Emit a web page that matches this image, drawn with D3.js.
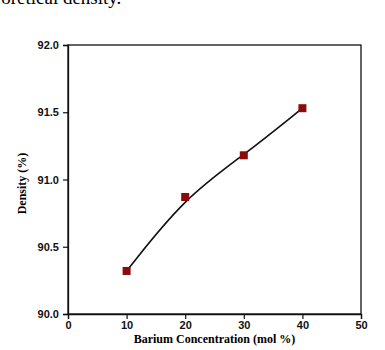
<!DOCTYPE html>
<html>
<head>
<meta charset="utf-8">
<script src="https://cdn.jsdelivr.net/npm/d3@7"></script>
<style>
  body { margin: 0; background: #fff; }
  svg { display: block; }
</style>
</head>
<body>
<svg id="chart" width="385" height="350"></svg>
<script>
// data
const bariumConc = [10, 20, 30, 40];
const density = [90.32, 90.87, 91.18, 91.53];
const xTicks = [0, 10, 20, 30, 40, 50];
const yTicks = [90.0, 90.5, 91.0, 91.5, 92.0];

const svg = d3.select("#chart");
const margin = { left: 68, right: 24, top: 45, bottom: 36 };
const width = 385, height = 350;

const x = d3.scaleLinear().domain([0, 50]).range([margin.left, width - margin.right]);
const y = d3.scaleLinear().domain([90, 92]).range([height - margin.bottom, margin.top]);

// cut-off caption text from the page above
svg.append("text")
    .attr("x", -22)
    .attr("y", 4)
    .style("font-family", "'Liberation Serif', 'Times New Roman', serif")
    .style("font-size", "19px")
    .text("theoretical density.");

// frame
svg.append("rect")
    .attr("x", x(0))
    .attr("y", y(92))
    .attr("width", x(50) - x(0))
    .attr("height", y(90) - y(92))
    .attr("fill", "none")
    .attr("stroke", "#111")
    .attr("stroke-width", 1.3);

const xAxis = svg.append("g")
    .attr("transform", `translate(0,${y(90)})`)
    .call(d3.axisBottom(x).tickValues(xTicks).tickSize(5).tickFormat(d3.format("d")));

const yAxis = svg.append("g")
    .attr("transform", `translate(${x(0)},0)`)
    .call(d3.axisLeft(y).tickValues(yTicks).tickSize(5).tickFormat(d3.format(".1f")));

[xAxis, yAxis].forEach(a => {
    a.select(".domain").attr("stroke", "#111").attr("stroke-width", 1.3);
    a.selectAll(".tick line").attr("stroke", "#111").attr("stroke-width", 1.2);
    a.selectAll(".tick text")
        .style("font-family", "'Liberation Sans Narrow', 'Liberation Sans', Arial, sans-serif")
        .style("font-size", "11px")
        .style("font-weight", "bold")
        .attr("fill", "#111");
});
xAxis.selectAll(".tick text").attr("dy", "0.6em");
yAxis.selectAll(".tick text").attr("dx", "-1px");

// axis titles
svg.append("text")
    .attr("x", (x(0) + x(50)) / 2)
    .attr("y", 343)
    .attr("text-anchor", "middle")
    .style("font-family", "'Liberation Serif', 'Times New Roman', serif")
    .style("font-size", "12px")
    .style("font-weight", "bold")
    .text("Barium Concentration (mol %)");

svg.append("text")
    .attr("transform", `translate(26,${(y(90) + y(92)) / 2 + 4}) rotate(-90)`)
    .attr("text-anchor", "middle")
    .style("font-family", "'Liberation Serif', 'Times New Roman', serif")
    .style("font-size", "12px")
    .style("font-weight", "bold")
    .text("Density (%)");

// smoothed curve through the points
const pts = bariumConc.map((c, i) => [c, density[i]]);

const line = d3.line()
    .x(d => x(d[0]))
    .y(d => y(d[1]))
    .curve(d3.curveBasis);

svg.append("path")
    .datum(pts)
    .attr("d", line)
    .attr("fill", "none")
    .attr("stroke", "#111")
    .attr("stroke-width", 1.6);

svg.selectAll(".pt")
    .data(pts)
    .enter().append("rect")
    .attr("class", "pt")
    .attr("x", d => x(d[0]) - 4)
    .attr("y", d => y(d[1]) - 4)
    .attr("width", 8)
    .attr("height", 8)
    .attr("fill", "#8b0a0a");
</script>
</body>
</html>
